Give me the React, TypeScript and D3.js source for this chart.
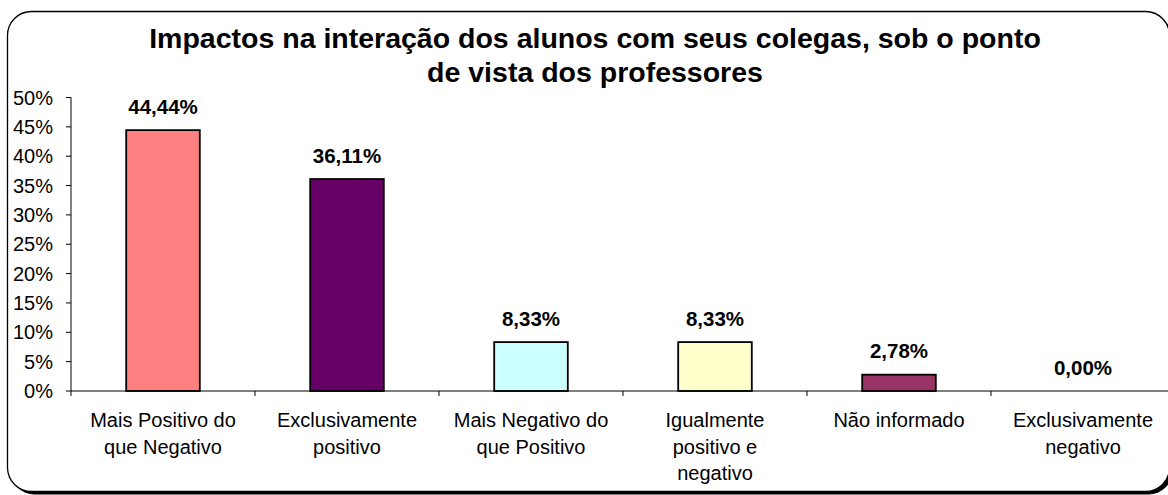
import React, { useEffect, useRef } from 'react';
import * as d3 from 'd3';

const categories = [
  'Mais Positivo do que Negativo',
  'Exclusivamente positivo',
  'Mais Negativo do que Positivo',
  'Igualmente positivo e negativo',
  'Não informado',
  'Exclusivamente negativo',
];
const categoryLines = [
  ['Mais Positivo do', 'que Negativo'],
  ['Exclusivamente', 'positivo'],
  ['Mais Negativo do', 'que Positivo'],
  ['Igualmente', 'positivo e', 'negativo'],
  ['Não informado'],
  ['Exclusivamente', 'negativo'],
];
const values = [0.4444, 0.3611, 0.0833, 0.0833, 0.0278, 0];
const valueLabels = ['44,44%', '36,11%', '8,33%', '8,33%', '2,78%', '0,00%'];
const barColors = ['#FF8080', '#660066', '#CCFFFF', '#FFFFCC', '#993366', '#9999FF'];
const yTicks = [0, 0.05, 0.1, 0.15, 0.2, 0.25, 0.3, 0.35, 0.4, 0.45, 0.5];
const titleLines = [
  'Impactos na interação dos alunos com seus colegas, sob o ponto',
  'de vista dos professores',
];

const FONT = '"Liberation Sans", Arial, sans-serif';

function App() {
  const ref = useRef<SVGSVGElement>(null);

  useEffect(() => {
    const width = 1168;
    const height = 495;
    const plot = { left: 71, right: 1175, top: 97.5, bottom: 391 };

    const svg = d3.select(ref.current);
    svg.selectAll('*').remove();
    svg.attr('width', width).attr('height', height);

    // frame with shadow
    svg.append('rect')
      .attr('x', 10.5).attr('y', 14.5)
      .attr('width', 1162).attr('height', 480)
      .attr('rx', 24).attr('ry', 24)
      .attr('fill', '#000');
    svg.append('rect')
      .attr('x', 7.5).attr('y', 11.5)
      .attr('width', 1162).attr('height', 480)
      .attr('rx', 24).attr('ry', 24)
      .attr('fill', '#fff')
      .attr('stroke', '#000')
      .attr('stroke-width', 1.3);

    // scales
    const x = d3.scaleBand()
      .domain(categories)
      .range([plot.left, plot.right])
      .paddingInner(0.6)
      .paddingOuter(0.3);
    const xEdge = d3.scaleBand()
      .domain(categories)
      .range([plot.left, plot.right])
      .padding(0);
    const y = d3.scaleLinear()
      .domain([0, 0.5])
      .range([plot.bottom, plot.top]);

    // title
    svg.append('g')
      .selectAll('text')
      .data(titleLines)
      .enter()
      .append('text')
        .attr('x', 595)
        .attr('y', (d, i) => 48 + i * 34)
        .attr('text-anchor', 'middle')
        .style('font-family', FONT)
        .style('font-weight', 'bold')
        .style('font-size', '28.5px')
        .text(d => d);

    // y axis
    const yAxis = svg.append('g');
    yAxis.append('line')
      .attr('x1', plot.left).attr('x2', plot.left)
      .attr('y1', y(0.5)).attr('y2', y(0))
      .attr('stroke', '#000');
    const yt = yAxis.selectAll('.ytick')
      .data(yTicks)
      .enter()
      .append('g')
        .attr('class', 'ytick')
        .attr('transform', d => `translate(0, ${y(d)})`);
    yt.append('line')
      .attr('x1', plot.left - 5).attr('x2', plot.left)
      .attr('stroke', '#000');
    yt.append('text')
      .attr('x', 53)
      .attr('dy', 7)
      .attr('text-anchor', 'end')
      .style('font-family', FONT)
      .style('font-size', '20px')
      .text(d => d3.format('.0%')(d));

    // bars
    svg.append('g')
      .selectAll('.bar')
      .data(values)
      .enter()
      .append('rect')
        .attr('class', 'bar')
        .attr('x', (d, i) => x(categories[i]))
        .attr('y', d => y(d))
        .attr('width', x.bandwidth())
        .attr('height', d => y(0) - y(d))
        .attr('fill', (d, i) => barColors[i])
        .attr('stroke', '#000')
        .attr('stroke-width', d => d > 0 ? 1.8 : 0);

    // x axis
    const xAxis = svg.append('g');
    xAxis.append('line')
      .attr('x1', plot.left).attr('x2', plot.right)
      .attr('y1', y(0)).attr('y2', y(0))
      .attr('stroke', '#000');
    const edges = categories.map(c => xEdge(c)).concat([plot.right]);
    xAxis.selectAll('.xtick')
      .data(edges)
      .enter()
      .append('line')
        .attr('class', 'xtick')
        .attr('x1', d => d).attr('x2', d => d)
        .attr('y1', y(0)).attr('y2', y(0) + 5)
        .attr('stroke', '#000');

    // category labels
    const cl = svg.append('g')
      .selectAll('.cat')
      .data(categoryLines)
      .enter()
      .append('text')
        .attr('class', 'cat')
        .attr('text-anchor', 'middle')
        .style('font-family', FONT)
        .style('font-size', '20px');
    cl.each(function (lines, i) {
      const cx = (x(categories[i]) as number) + x.bandwidth() / 2;
      d3.select(this)
        .selectAll('tspan')
        .data(lines)
        .enter()
        .append('tspan')
          .attr('x', cx)
          .attr('y', (d, j) => 427 + j * 26.5)
          .text(d => d);
    });

    // value labels
    svg.append('g')
      .selectAll('.val')
      .data(values)
      .enter()
      .append('text')
        .attr('class', 'val')
        .attr('x', (d, i) => (x(categories[i]) as number) + x.bandwidth() / 2)
        .attr('y', d => y(d) - 16.5)
        .attr('text-anchor', 'middle')
        .style('font-family', FONT)
        .style('font-weight', 'bold')
        .style('font-size', '20.5px')
        .text((d, i) => valueLabels[i]);
  });

  return (
    <svg ref={ref} style={{ position: 'absolute', left: 0, top: 0, display: 'block' }} />
  );
}

export default App;
